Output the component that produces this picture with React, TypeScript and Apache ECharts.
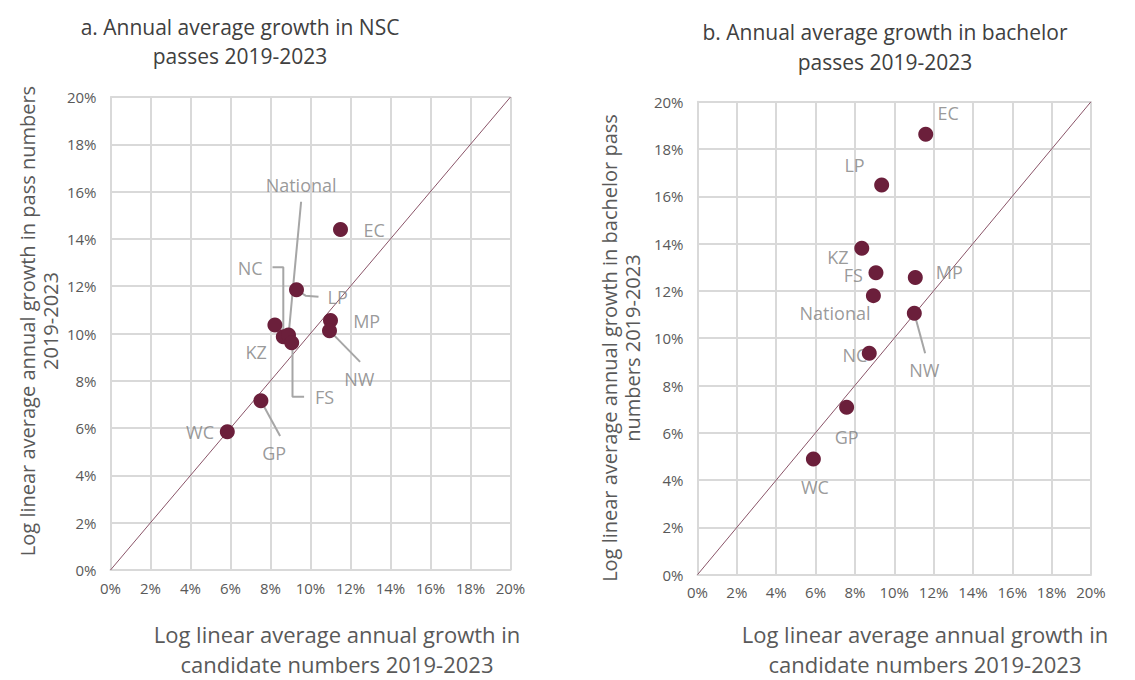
import React, { useEffect, useRef } from "react";
import * as echarts from "echarts";

// ---- Data (percent values) ----
const regions = ["EC", "LP", "MP", "NW", "KZ", "NC", "National", "FS", "GP", "WC"];

// Panel a: NSC passes
const nscCandidateGrowth = [11.5, 9.3, 11.0, 10.95, 8.22, 8.64, 8.9, 9.06, 7.52, 5.84];
const nscPassGrowth = [14.4, 11.85, 10.55, 10.12, 10.36, 9.86, 9.94, 9.61, 7.16, 5.85];

// Panel b: bachelor passes
const bachelorCandidateGrowth = [11.6, 9.36, 11.07, 11.02, 8.35, 8.73, 8.94, 9.07, 7.58, 5.89];
const bachelorPassGrowth = [18.62, 16.48, 12.57, 11.05, 13.8, 9.36, 11.8, 12.77, 7.08, 4.89];

const tickValues = [0, 2, 4, 6, 8, 10, 12, 14, 16, 18, 20];

// ---- Annotation layout (label anchors and leader routes, data coords) ----
const nscLabelAnchors: Record<string, [number, number]> = {
  EC: [13.18, 14.38],
  LP: [11.36, 11.53],
  MP: [12.81, 10.53],
  NW: [12.44, 8.08],
  KZ: [7.28, 9.2],
  NC: [6.98, 12.77],
  National: [9.53, 16.3],
  FS: [10.7, 7.33],
  GP: [8.18, 4.93],
  WC: [4.48, 5.85],
};
const nscLeaders: [number, number][][] = [
  [[9.3, 11.85], [9.75, 11.6], [10.4, 11.55]],
  [[8.1, 12.8], [8.64, 12.8], [8.64, 9.95]],
  [[9.53, 15.57], [8.9, 9.9]],
  [[9.1, 9.6], [9.1, 7.33], [9.68, 7.33]],
  [[10.95, 10.12], [12.48, 8.8]],
  [[7.52, 7.16], [8.48, 5.67]],
];

const bachelorLabelAnchors: Record<string, [number, number]> = {
  EC: [12.74, 19.52],
  LP: [7.98, 17.32],
  KZ: [7.14, 13.43],
  FS: [7.92, 12.67],
  MP: [12.8, 12.81],
  National: [6.99, 11.08],
  NC: [8.0, 9.29],
  NW: [11.53, 8.66],
  GP: [7.58, 5.84],
  WC: [5.97, 3.7],
};
const bachelorLeaders: [number, number][][] = [[[11.02, 11.05], [11.57, 9.36]]];

const FONT = "Open Sans";
const DOT = "#6b1f3b";
const GRID = "#d9d9d9";
const TEXT = "#595959";
const LABEL = "#7f7f7f";

function makeAxis(gridIndex: number, isX: boolean) {
  return {
    type: "value",
    gridIndex,
    min: 0,
    max: 20,
    interval: 2,
    axisLine: { show: true, lineStyle: { color: GRID, width: 2 } },
    axisTick: { show: false },
    splitLine: { show: true, lineStyle: { color: GRID, width: 2 } },
    axisLabel: {
      color: TEXT,
      fontFamily: FONT,
      fontSize: 15,
      margin: isX ? 10 : 14,
      formatter: (v: number) => (tickValues.includes(v) ? v + "%" : ""),
    },
  };
}

function panelSeries(
  idx: number,
  xs: number[],
  ys: number[],
  anchors: Record<string, [number, number]>,
  leaders: [number, number][][]
) {
  const out: any[] = [];
  out.push({
    type: "line",
    xAxisIndex: idx,
    yAxisIndex: idx,
    data: [[0, 0], [20, 20]],
    symbol: "none",
    lineStyle: { color: "#8a5468", width: 1 },
    z: 1,
    silent: true,
  });
  leaders.forEach((pts) => {
    out.push({
      type: "line",
      xAxisIndex: idx,
      yAxisIndex: idx,
      data: pts,
      symbol: "none",
      lineStyle: { color: "#a6a6a6", width: 2 },
      z: 2,
      silent: true,
    });
  });
  out.push({
    type: "scatter",
    xAxisIndex: idx,
    yAxisIndex: idx,
    symbolSize: 0,
    z: 1,
    data: regions.map((r) => ({ name: r, value: anchors[r] })),
    label: {
      show: true,
      position: "inside",
      formatter: (p: any) => p.name,
      color: LABEL,
      fontFamily: FONT,
      fontSize: 18,
    },
  });
  out.push({
    type: "scatter",
    xAxisIndex: idx,
    yAxisIndex: idx,
    symbolSize: 15,
    z: 5,
    itemStyle: { color: DOT, opacity: 1 },
    data: regions.map((r, i) => ({ name: r, value: [xs[i], ys[i]] })),
  });
  return out;
}

function textEl(
  x: number,
  y: number,
  text: string,
  size: number,
  color: string,
  lineHeight: number,
  rotation = 0
) {
  return {
    type: "text",
    x,
    y,
    rotation,
    style: {
      text,
      fill: color,
      fontFamily: FONT,
      fontSize: size,
      align: "center",
      verticalAlign: "middle",
      lineHeight,
    },
  };
}

export default function App() {
  const ref = useRef<HTMLDivElement>(null);
  useEffect(() => {
    if (!ref.current) return;
    const chart = echarts.init(ref.current, undefined, { renderer: "svg" });
    chart.setOption({
      animation: false,
      backgroundColor: "#ffffff",
      grid: [
        { left: 110.5, top: 97, width: 400, height: 473 },
        { left: 697.5, top: 101.7, width: 393.5, height: 473 },
      ],
      xAxis: [makeAxis(0, true), makeAxis(1, true)],
      yAxis: [makeAxis(0, false), makeAxis(1, false)],
      series: [
        ...panelSeries(0, nscCandidateGrowth, nscPassGrowth, nscLabelAnchors, nscLeaders),
        ...panelSeries(1, bachelorCandidateGrowth, bachelorPassGrowth, bachelorLabelAnchors, bachelorLeaders),
      ],
      graphic: [
        textEl(240, 41, "a. Annual average growth in NSC\npasses 2019-2023", 21, "#404040", 29),
        textEl(885, 47, "b. Annual average growth in bachelor\npasses 2019-2023", 21, "#404040", 30),
        textEl(337, 649, "Log linear average annual growth in\ncandidate numbers 2019-2023", 22, TEXT, 30),
        textEl(925, 649, "Log linear average annual growth in\ncandidate numbers 2019-2023", 22, TEXT, 30),
        textEl(39, 321, "Log linear average annual growth in pass numbers\n2019-2023", 20, TEXT, 23, Math.PI / 2),
        textEl(621, 348, "Log linear average annual growth in bachelor pass\nnumbers 2019-2023", 20, TEXT, 23, Math.PI / 2),
      ],
    });
    return () => chart.dispose();
  }, []);
  return (
    <div
      ref={ref}
      style={{ position: "fixed", left: 0, top: 0, width: 1135, height: 680 }}
    />
  );
}
